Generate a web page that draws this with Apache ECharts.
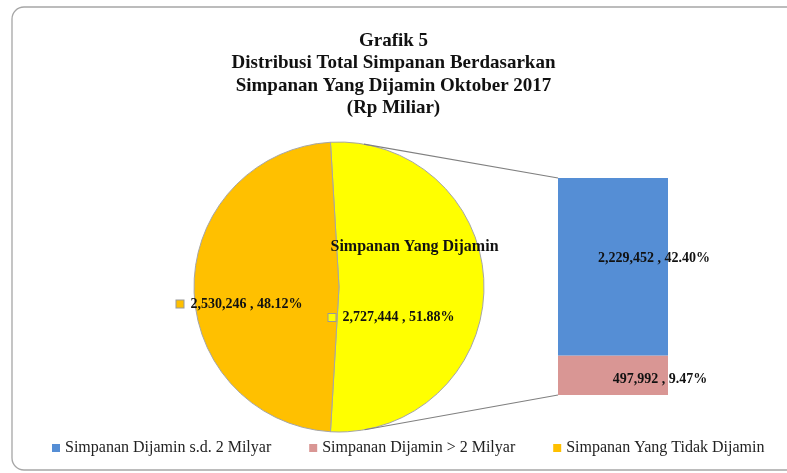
<!DOCTYPE html>
<html>
<head>
<meta charset="utf-8">
<script src="https://cdn.jsdelivr.net/npm/echarts@6/dist/echarts.min.js"></script>
<style>
html,body{margin:0;padding:0;background:#fff;}
#main{width:787px;height:473px;}
</style>
</head>
<body>
<div id="main"></div>
<script>
// ---- data ----
const titleLines = ['Grafik 5', 'Distribusi Total Simpanan Berdasarkan', 'Simpanan Yang Dijamin Oktober 2017', '(Rp Miliar)'];
const pieNames = ['Simpanan Yang Dijamin', 'Simpanan Yang Tidak Dijamin'];
const pieValues = [2727444, 2530246];
const barNames = ['Simpanan Dijamin s.d. 2 Milyar', 'Simpanan Dijamin > 2 Milyar'];
const barValues = [2229452, 497992];
const legendNames = ['Simpanan Dijamin s.d. 2 Milyar', 'Simpanan Dijamin > 2 Milyar', 'Simpanan Yang Tidak Dijamin'];

// ---- styling / layout ----
const FONT = 'Liberation Serif';
const colYellow = '#FFFF00', colOrange = '#FFC000', colBlue = '#558ED5', colPink = '#D99694';
const pieCx = 339, pieCy = 287, pieR = 145;
const gridL = 558, gridT = 178, gridW = 110, gridH = 217;

const total = pieValues.reduce((a, b) => a + b, 0);
const pct = v => (v / total * 100).toFixed(2) + '%';
const fmt = v => v.toLocaleString('en-US');
const barTotal = barValues.reduce((a, b) => a + b, 0);
const startAngle = 180 * pieValues[0] / total;

const valStyle = { fontFamily: FONT, fontWeight: 'bold', fontSize: 14, color: '#111' };
const rich = {
  n: { fontFamily: FONT, fontWeight: 'bold', fontSize: 16, color: '#111', lineHeight: 20, padding: [0, 0, 0, 46] },
  g: { lineHeight: 51, fontSize: 1 },
  v: Object.assign({ lineHeight: 20 }, valStyle),
  sqY: { width: 7, height: 7, backgroundColor: colYellow, borderColor: '#999', borderWidth: 1 },
  sqO: { width: 7, height: 7, backgroundColor: colOrange, borderColor: '#999', borderWidth: 1 }
};

// tangent connectors from bar corners to the pie
function tangentPoint(px, py, upper) {
  const dx = px - pieCx, dy = py - pieCy;
  const d = Math.sqrt(dx * dx + dy * dy);
  const phi = Math.atan2(dy, dx);
  const a = Math.acos(pieR / d);
  const t = upper ? phi - a : phi + a;
  return [pieCx + pieR * Math.cos(t), pieCy + pieR * Math.sin(t)];
}
const tTop = tangentPoint(gridL, gridT, true);
const tBot = tangentPoint(gridL, gridT + gridH, false);

const chart = echarts.init(document.getElementById('main'));
chart.setOption({
  animation: false,
  backgroundColor: '#fff',
  title: {
    text: titleLines.join('\n'),
    left: 'center',
    top: 25,
    textStyle: { fontFamily: FONT, fontWeight: 'bold', fontSize: 19, lineHeight: 22.3, color: '#111' }
  },
  legend: {
    data: legendNames,
    left: 52,
    top: 440,
    padding: 0,
    itemWidth: 8,
    itemHeight: 8,
    itemGap: 38,
    icon: 'rect',
    itemStyle: { borderWidth: 0 },
    textStyle: { fontFamily: FONT, fontSize: 16, color: '#222' }
  },
  graphic: [
    { type: 'rect', shape: { x: 12, y: 7, width: 800, height: 463, r: 12 }, style: { fill: 'none', stroke: '#a6a6a6', lineWidth: 1.3 }, z: -1 },
    { type: 'line', shape: { x1: tTop[0], y1: tTop[1], x2: gridL, y2: gridT }, style: { stroke: '#808080', lineWidth: 1.2 }, z: 10 },
    { type: 'line', shape: { x1: tBot[0], y1: tBot[1], x2: gridL, y2: gridT + gridH }, style: { stroke: '#808080', lineWidth: 1.2 }, z: 10 }
  ],
  grid: { left: gridL, top: gridT, width: gridW, height: gridH },
  xAxis: { type: 'category', data: [''], show: false },
  yAxis: { type: 'value', min: 0, max: barTotal, show: false },
  series: [
    {
      type: 'pie',
      center: [pieCx, pieCy],
      radius: [0, pieR],
      startAngle: startAngle,
      clockwise: true,
      avoidLabelOverlap: false,
      itemStyle: { borderColor: '#a6a6a6', borderWidth: 1 },
      label: {
        show: true,
        position: 'inside',
        rich: rich,
        formatter: p => p.dataIndex === 0
          ? '{n|' + p.name + '}\n{g| }\n{sqY|}{v|  ' + fmt(p.value) + ' , ' + pct(p.value) + '}'
          : '{sqO|}{v|  ' + fmt(p.value) + ' , ' + pct(p.value) + '}'
      },
      labelLayout: p => p.dataIndex === 0 ? { dx: -23, dy: -5 } : { dx: -24, dy: 17 },
      labelLine: { show: false },
      data: [
        { name: pieNames[0], value: pieValues[0], itemStyle: { color: colYellow } },
        { name: pieNames[1], value: pieValues[1], itemStyle: { color: colOrange } }
      ]
    },
    {
      type: 'bar',
      name: barNames[1],
      stack: 'g',
      barWidth: '100%',
      itemStyle: { color: colPink },
      label: { show: true, position: 'inside', offset: [47, 4], formatter: p => fmt(p.value) + ' , ' + pct(p.value), ...valStyle },
      data: [barValues[1]]
    },
    {
      type: 'bar',
      name: barNames[0],
      stack: 'g',
      barWidth: '100%',
      itemStyle: { color: colBlue },
      label: { show: true, position: 'inside', offset: [41, -8], formatter: p => fmt(p.value) + ' , ' + pct(p.value), ...valStyle },
      data: [barValues[0]]
    }
  ]
});
</script>
</body>
</html>
